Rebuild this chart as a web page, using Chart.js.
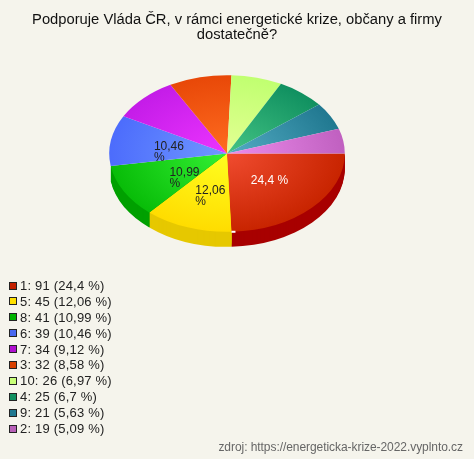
<!DOCTYPE html>
<html lang="cs">
<head>
  <meta charset="UTF-8">
  <title>Podporuje Vláda ČR</title>
  <script src="https://cdn.jsdelivr.net/npm/chart.js"></script>
  <style>
    html, body { margin: 0; padding: 0; background: #f5f4ec; }
    #wrap { position: relative; width: 474px; height: 459px; overflow: hidden; font-family: 'Liberation Sans', Arial, sans-serif; }
    canvas { position: absolute; left: 0; top: 0; }
    #legend { position: absolute; left: 9px; top: 278px; }
    .row { height: 15.9px; line-height: 15.9px; font-size: 13px; letter-spacing: 0.2px; color: #222; white-space: nowrap; }
    .box { display: inline-block; width: 6px; height: 6px; border: 1px solid #222; margin-right: 3px; vertical-align: 0.5px; }
    #source { position: absolute; right: 11px; top: 440px; font-size: 12px; letter-spacing: -0.06px; color: #666; }
  </style>
</head>
<body>
<div id="wrap">
  <canvas id="pie" width="474" height="459"></canvas>
  <div id="legend"></div>
  <div id="source">zdroj: https://energeticka-krize-2022.vyplnto.cz</div>
</div>

<script>
const titleLines = ['Podporuje Vláda ČR, v rámci energetické krize, občany a firmy', 'dostatečně?'];
const categories = ['1', '5', '8', '6', '7', '3', '10', '4', '9', '2'];
const counts = [91, 45, 41, 39, 34, 32, 26, 25, 21, 19];
const percents = ['24,4', '12,06', '10,99', '10,46', '9,12', '8,58', '6,97', '6,7', '5,63', '5,09'];
const sliceLabels = [['24,4 %'], ['12,06', '%'], ['10,99', '%'], ['10,46', '%']];
const labelColors = ['#fff', '#222', '#222', '#222'];
const innerColors = ['#f04c30', '#ffff20', '#34f034', '#7098ff', '#ec34ff', '#ff6c20', '#e4ff94', '#44c484', '#54acc4', '#ec8cec'];
const outerColors = ['#c82400', '#ffdc00', '#08bc08', '#4c6cfc', '#c41ce8', '#e84808', '#c0ff70', '#109060', '#207890', '#c060c0'];
const sideColors = ['#a80000', '#e6c800', '#00a000', '#3048c0', '#8c0ca8', '#b03000', '#9ccc58', '#0c7048', '#185c70', '#985098'];
const legendColors = ['#c42000', '#ffe000', '#00b400', '#4868f0', '#b010d0', '#d84000', '#c8ff78', '#109060', '#207890', '#b860b8'];

// ellipse of the squashed pie on the page
const pieX = 227, pieY = 153.5, squash = 0.665, depth = 15;

function slicePath(ctx, arc) {
  ctx.beginPath();
  ctx.moveTo(arc.x, arc.y);
  ctx.arc(arc.x, arc.y, arc.outerRadius, arc.startAngle, arc.endAngle);
  ctx.closePath();
}

function squashCtx(ctx, arc) {
  ctx.translate(pieX, pieY);
  ctx.scale(1, squash);
  ctx.translate(-arc.x, -arc.y);
}

function midSin(arc) {
  return Math.sin((arc.startAngle + arc.endAngle) / 2);
}

const pie3d = {
  id: 'pie3d',
  beforeDatasetsDraw(chart) {
    const ctx = chart.ctx;
    const arcs = chart.getDatasetMeta(0).data;
    // side wall of the front slices only, nearest one last, then the top goes over it
    const order = arcs.map((arc, i) => i).filter(i => midSin(arcs[i]) > 0)
      .sort((a, b) => midSin(arcs[a]) - midSin(arcs[b]));
    ctx.save();
    squashCtx(ctx, arcs[0]);
    order.forEach(i => {
      ctx.fillStyle = sideColors[i];
      for (let d = depth; d > 0; d--) {
        ctx.save();
        ctx.translate(0, d / squash);
        slicePath(ctx, arcs[i]);
        ctx.fill();
        ctx.restore();
      }
    });
    ctx.restore();
    ctx.save();
    squashCtx(ctx, arcs[0]);
  },
  afterDatasetsDraw(chart) {
    const ctx = chart.ctx;
    ctx.restore();
    const arcs = chart.getDatasetMeta(0).data;
    // little white tick at the end of the first slice
    const end = arcs[0].endAngle;
    ctx.fillStyle = '#fff';
    ctx.fillRect(pieX + Math.cos(end) * arcs[0].outerRadius, pieY + Math.sin(end) * arcs[0].outerRadius * squash - 1, 4, 2);
    ctx.font = "12px 'Liberation Sans', Arial, sans-serif";
    ctx.textBaseline = 'middle';
    const nudge = [0, 3, 9, 0];
    sliceLabels.forEach((lines, i) => {
      const arc = arcs[i];
      const mid = (arc.startAngle + arc.endAngle) / 2;
      const cx = pieX + Math.cos(mid) * arc.outerRadius * 0.5 + nudge[i];
      const cy = pieY + Math.sin(mid) * arc.outerRadius * 0.5 * squash;
      const w = ctx.measureText(lines[0]).width;
      ctx.fillStyle = labelColors[i];
      lines.forEach((line, n) => {
        ctx.fillText(line, cx - w / 2, cy + n * 11);
      });
    });
  }
};

new Chart(document.getElementById('pie'), {
  type: 'pie',
  data: {
    labels: categories,
    datasets: [{
      data: counts,
      borderWidth: 0,
      backgroundColor(c) {
        const area = c.chart.chartArea;
        if (!area) return outerColors[c.dataIndex];
        const x = (area.left + area.right) / 2, y = (area.top + area.bottom) / 2;
        const g = c.chart.ctx.createRadialGradient(x, y, 0, x, y, 118);
        g.addColorStop(0, innerColors[c.dataIndex]);
        g.addColorStop(1, outerColors[c.dataIndex]);
        return g;
      }
    }]
  },
  options: {
    responsive: false,
    animation: false,
    rotation: 90,
    layout: { padding: { left: 0, right: 0, top: 12, bottom: 173 } },
    plugins: {
      legend: { display: false },
      tooltip: { enabled: false },
      title: {
        display: true,
        text: titleLines,
        color: '#111',
        font: { family: "'Liberation Sans', Arial, sans-serif", size: 14.75, weight: 'normal', lineHeight: 1.03 },
        padding: { top: 0, bottom: 8 }
      }
    }
  },
  plugins: [pie3d]
});

// legend rows
const legend = document.getElementById('legend');
categories.forEach((cat, i) => {
  const row = document.createElement('div');
  row.className = 'row';
  const box = document.createElement('span');
  box.className = 'box';
  box.style.background = legendColors[i];
  row.appendChild(box);
  row.appendChild(document.createTextNode(cat + ': ' + counts[i] + ' (' + percents[i] + ' %)'));
  legend.appendChild(row);
});
</script>
</body>
</html>
